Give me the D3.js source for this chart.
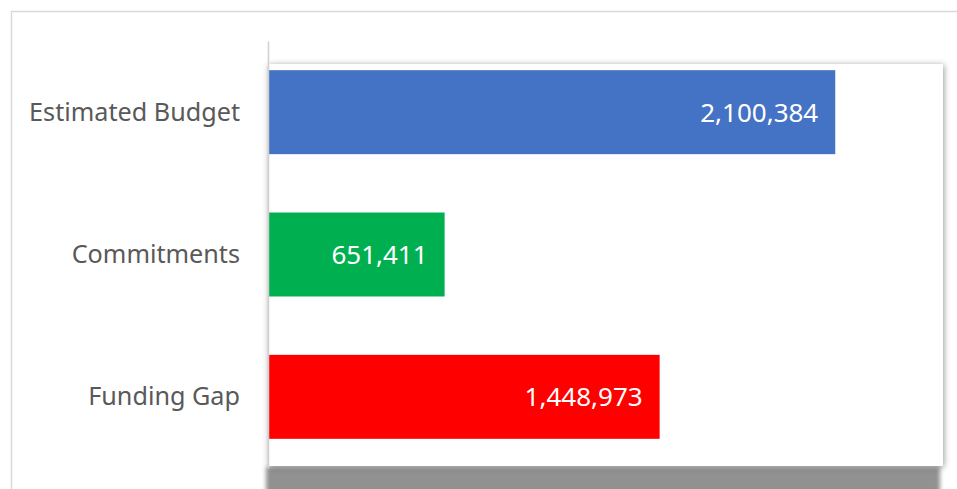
<!DOCTYPE html>
<html>
<head>
<meta charset="utf-8">
<script src="https://cdn.jsdelivr.net/npm/d3@7"></script>
<style>
  html, body { margin: 0; padding: 0; background: #fff; }
  svg { display: block; }
</style>
</head>
<body>
<svg id="chart"></svg>
<script>
const categories = ["Estimated Budget", "Commitments", "Funding Gap"];
const values = [2100384, 651411, 1448973];
const barColors = ["#4472C4", "#00B050", "#FF0000"];
const xMax = 2500000;

const width = 957;
const height = 489;
const plotLeft = 268, plotRight = 943, plotTop = 41, plotBottom = 468;

var svg = d3.select('#chart')
  .attr('width', width)
  .attr('height', height);

var defs = svg.append('defs');
defs.append('filter')
    .attr('id', 'shadow')
    .attr('x', '-5%').attr('y', '-5%').attr('width', '110%').attr('height', '110%')
  .append('feDropShadow')
    .attr('dx', 1).attr('dy', 1)
    .attr('stdDeviation', 3)
    .attr('flood-color', '#000')
    .attr('flood-opacity', 0.4);
defs.append('filter')
    .attr('id', 'soft')
  .append('feGaussianBlur')
    .attr('stdDeviation', 2);

// outer chart border (only top/left visible)
svg.append('path')
  .attr('d', `M11.5,${height + 5} L11.5,11.5 L${width + 5},11.5`)
  .attr('fill', 'none')
  .attr('stroke', '#d9d9d9')
  .attr('stroke-width', 1.5);

// gray band at the bottom
svg.append('rect')
  .attr('x', plotLeft - 2)
  .attr('y', 467)
  .attr('width', plotRight - plotLeft - 1)
  .attr('height', 30)
  .attr('fill', '#919191')
  .attr('filter', 'url(#soft)');

// plot area card with shadow
svg.append('rect')
  .attr('x', plotLeft)
  .attr('y', 64)
  .attr('width', plotRight - plotLeft)
  .attr('height', 466 - 64)
  .attr('fill', '#fff')
  .attr('filter', 'url(#shadow)');

var x = d3.scaleLinear()
  .domain([0, xMax])
  .range([plotLeft + 1, plotRight]);

var y = d3.scaleBand()
  .domain(categories)
  .range([plotTop, plotBottom])
  .paddingInner(0.41)
  .paddingOuter(0.205);

// bars
svg.append('g')
  .selectAll('rect')
  .data(values)
  .enter().append('rect')
    .attr('x', x(0))
    .attr('y', (d, i) => y(categories[i]))
    .attr('width', d => x(d) - x(0))
    .attr('height', y.bandwidth())
    .attr('fill', (d, i) => barColors[i]);

// value labels
var fmt = d3.format(',');
svg.append('g')
  .selectAll('text')
  .data(values)
  .enter().append('text')
    .attr('x', d => x(d) - 17)
    .attr('y', (d, i) => y(categories[i]) + y.bandwidth() / 2)
    .attr('dy', '0.36em')
    .attr('text-anchor', 'end')
    .attr('fill', '#fff')
    .style('font-family', '"Noto Sans", sans-serif')
    .style('font-size', '26px')
    .text(d => fmt(d));

// category axis
var yAxis = d3.axisLeft(y).tickSize(0).tickPadding(28);
var ga = svg.append('g')
  .attr('transform', `translate(${plotLeft},0)`)
  .call(yAxis);
ga.select('.domain')
  .attr('stroke', '#d0d0d0')
  .attr('stroke-width', 1.5);
ga.selectAll('text')
  .attr('fill', '#595959')
  .attr('dy', '0.34em')
  .style('font-family', '"Noto Sans", sans-serif')
  .style('font-size', '25.2px');
</script>
</body>
</html>
